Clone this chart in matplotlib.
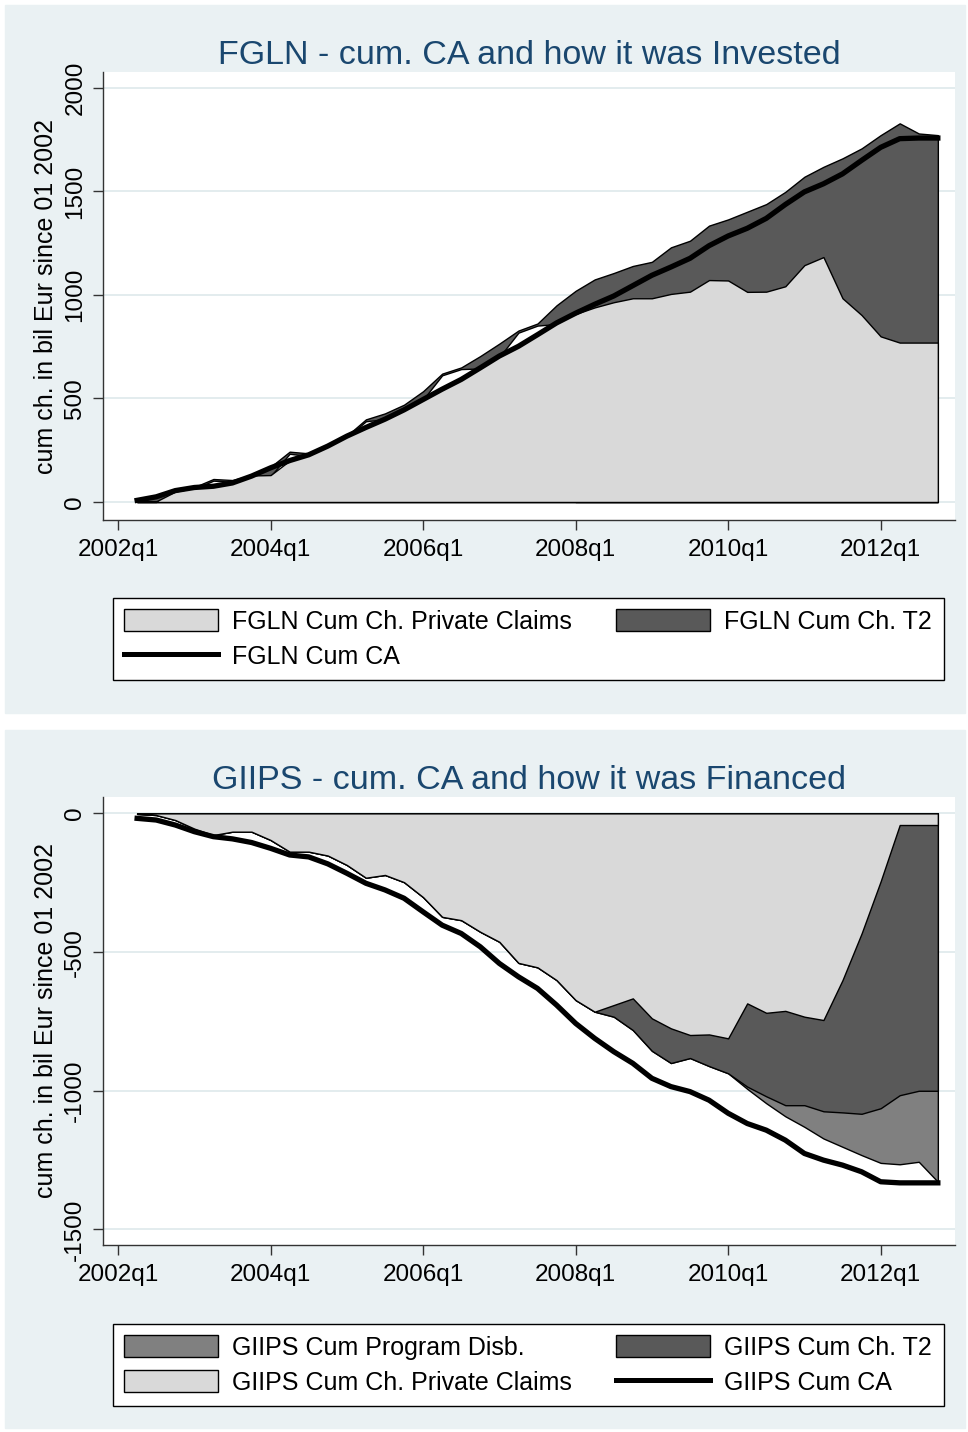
import numpy as np
import matplotlib.pyplot as plt
from matplotlib.patches import Rectangle, Patch
from matplotlib.lines import Line2D

plt.rcParams['font.family'] = ['Liberation Sans', 'DejaVu Sans']
plt.rcParams['axes.unicode_minus'] = False

# quarters 2002q2 .. 2012q4, position counted from 2002q1 = 0
quarters = [f"{y}q{q}" for y in range(2002, 2013) for q in range(1, 5)][1:]
t = np.arange(1, len(quarters) + 1)

tick_pos = [0, 8, 16, 24, 32, 40]
tick_lab = ['2002q1', '2004q1', '2006q1', '2008q1', '2010q1', '2012q1']

# FGLN (bil Eur, cumulative since 2002)
fgln_ca = [8, 25, 55, 70, 76, 92, 125, 165, 200, 228, 270, 318, 360, 400, 445,
           495, 545, 592, 648, 705, 752, 808, 865, 912, 955, 995, 1045, 1095,
           1135, 1177, 1238, 1285, 1322, 1370, 1437, 1498, 1537, 1585, 1650,
           1713, 1755, 1758, 1758]
fgln_priv = [3, 3, 50, 68, 76, 92, 128, 130, 200, 228, 272, 318, 362, 405, 448,
             500, 550, 595, 650, 706, 758, 815, 868, 908, 940, 965, 984, 984,
             1005, 1016, 1072, 1070, 1015, 1016, 1042, 1144, 1183, 984, 903,
             800, 770, 770, 770]
# private + T2 (top of the dark area)
fgln_priv_t2 = [8, 25, 55, 72, 111, 106, 130, 170, 243, 235, 275, 320, 399, 428,
                470, 535, 620, 650, 705, 765, 828, 862, 950, 1020, 1075, 1106,
                1140, 1160, 1230, 1262, 1335, 1365, 1402, 1439, 1498, 1571, 1619,
                1660, 1708, 1772, 1829, 1780, 1772]
# unfilled gap under the T2 band
fgln_gap = [0, 0, 45, 63, 103, 98, 120, 125, 233, 222, 265, 312, 390, 400, 440,
            495, 612, 642, 645, 700, 818, 852, 860, 0, 0, 0, 0, 0, 0, 0, 0, 0,
            0, 0, 0, 0, 0, 0, 0, 0, 0, 0, 0]

# GIIPS
giips_ca = [-18, -24, -42, -66, -84, -92, -105, -126, -150, -157, -182, -216,
            -252, -276, -306, -355, -403, -433, -481, -541, -589, -631, -691,
            -757, -811, -859, -901, -955, -985, -1003, -1034, -1081, -1118,
            -1142, -1178, -1226, -1250, -1268, -1292, -1328, -1332, -1332, -1332]
giips_priv = [-2, -6, -24, -55, -78, -66, -66, -96, -138, -138, -152, -186,
              -232, -222, -248, -302, -373, -385, -427, -463, -539, -555, -601,
              -673, -715, -691, -667, -739, -775, -799, -797, -811, -685, -719,
              -712, -733, -745, -601, -433, -245, -42, -42, -42]
giips_priv_t2 = [-2, -6, -24, -55, -78, -66, -66, -96, -138, -138, -152, -186,
                 -232, -222, -248, -302, -373, -385, -427, -463, -539, -555,
                 -601, -673, -715, -733, -781, -856, -900, -882, -911, -937,
                 -985, -1020, -1052, -1052, -1074, -1078, -1083, -1063, -1016,
                 -1000, -1000]
giips_priv_t2_prog = [-2, -6, -24, -55, -78, -66, -66, -96, -138, -138, -152,
                      -186, -232, -222, -248, -302, -373, -385, -427, -463,
                      -539, -555, -601, -673, -715, -733, -781, -856, -900,
                      -882, -911, -937, -993, -1045, -1092, -1130, -1172, -1202,
                      -1232, -1260, -1265, -1256, -1328]

LIGHT = '#D9D9D9'
DARK = '#595959'
MED = '#808080'
BG = '#EAF1F3'
GRID = '#E3ECEE'
NAVY = '#1A476F'
FS = 18

fig = plt.figure(figsize=(9.68, 14.32), dpi=100)
W, H = 968.0, 1432.0
fig.patches.append(Rectangle((5 / W, 1 - 713 / H), 960 / W, 708 / H,
                             transform=fig.transFigure, color=BG, zorder=-10))
fig.patches.append(Rectangle((5 / W, 1 - 1428 / H), 960 / W, 698 / H,
                             transform=fig.transFigure, color=BG, zorder=-10))

ax1 = fig.add_axes([103 / W, 1 - 520 / H, 852 / W, 448 / H])
ax2 = fig.add_axes([103 / W, 1 - 1245 / H, 852 / W, 448 / H])


def style(ax, yticks, ylim, title):
    ax.set_xlim(-0.79, 43.9)
    ax.set_ylim(*ylim)
    ax.set_xticks(tick_pos)
    ax.set_xticklabels(tick_lab)
    ax.set_yticks(yticks)
    ax.set_yticklabels([str(v) for v in yticks])
    ax.tick_params(axis='both', length=7, width=1.0, color='#333333',
                   labelsize=17.5, pad=5)
    ax.tick_params(axis='x', pad=7)
    for lab in ax.get_yticklabels():
        lab.set_rotation(90)
        lab.set_va('center')
    ax.yaxis.grid(True, color=GRID, lw=1.4)
    ax.set_axisbelow(True)
    for s in ['top', 'right']:
        ax.spines[s].set_visible(False)
    for s in ['left', 'bottom']:
        ax.spines[s].set_color('#333333')
        ax.spines[s].set_linewidth(1.0)
    ax.set_ylabel('cum ch. in bil Eur since 01 2002', fontsize=FS)
    ax.yaxis.set_label_coords(-0.053, 0.5)
    ax.set_title(title, color=NAVY, fontsize=24.5, pad=6)


# top: FGLN
ax1.fill_between(t, 0, fgln_priv_t2, facecolor=DARK, edgecolor='black', lw=1.0, zorder=2)
ax1.fill_between(t, 0, fgln_gap, facecolor='white', edgecolor='black', lw=1.0, zorder=3)
ax1.fill_between(t, 0, fgln_priv, facecolor=LIGHT, edgecolor='black', lw=1.0, zorder=4)
ax1.plot(t, fgln_ca, color='black', lw=3.8, zorder=5)
style(ax1, [0, 500, 1000, 1500, 2000], (-87, 2077),
      'FGLN - cum. CA and how it was Invested')

# bottom: GIIPS
ax2.fill_between(t, 0, giips_priv_t2_prog, facecolor=MED, edgecolor='black', lw=1.0, zorder=2)
ax2.fill_between(t, 0, giips_priv_t2, facecolor=DARK, edgecolor='black', lw=1.0, zorder=3)
ax2.fill_between(t, 0, giips_priv, facecolor=LIGHT, edgecolor='black', lw=1.0, zorder=4)
ax2.plot(t, giips_ca, color='black', lw=3.8, zorder=5)
style(ax2, [0, -500, -1000, -1500], (-1556, 59),
      'GIIPS - cum. CA and how it was Financed')


def legend(handles, labels, top, bottom):
    leg = fig.legend(handles, labels, ncol=2, mode='expand', loc='center',
                     bbox_to_anchor=(100 / W, 1 - bottom / H, 856 / W, (bottom - top) / H),
                     frameon=True, fancybox=False, edgecolor='black', framealpha=1,
                     fontsize=FS, handlelength=3.75, handleheight=0.95,
                     handletextpad=0.6, labelspacing=0.42, borderpad=0.45,
                     columnspacing=1.0)
    leg.get_frame().set_linewidth(1.0)


p_light = Patch(facecolor=LIGHT, edgecolor='black', lw=1.0)
p_dark = Patch(facecolor=DARK, edgecolor='black', lw=1.0)
p_med = Patch(facecolor=MED, edgecolor='black', lw=1.0)
l_ca = Line2D([], [], color='black', lw=3.6)

legend([p_light, l_ca, p_dark],
       ['FGLN Cum Ch. Private Claims', 'FGLN Cum CA', 'FGLN Cum Ch. T2'], 598, 680)
legend([p_med, p_light, p_dark, l_ca],
       ['GIIPS Cum Program Disb.', 'GIIPS Cum Ch. Private Claims',
        'GIIPS Cum Ch. T2', 'GIIPS Cum CA'], 1325, 1405)

fig.savefig('out.png', dpi=100)
